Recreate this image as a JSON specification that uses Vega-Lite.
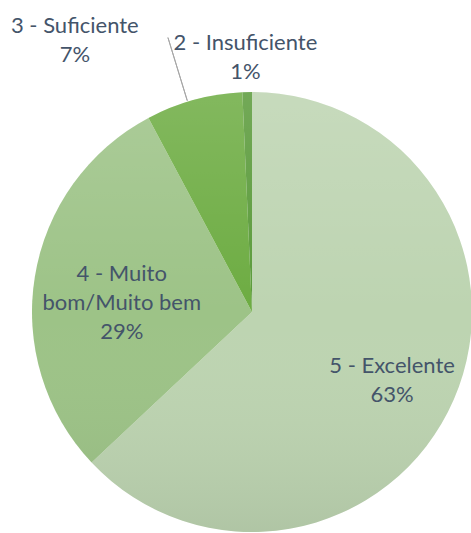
{
  "$schema": "https://vega.github.io/schema/vega-lite/v6.json",
  "width": 438,
  "height": 442,
  "autosize": "none",
  "padding": {"left": 33, "top": 91, "right": 0, "bottom": 0},
  "background": "white",
  "config": {"view": {"stroke": null}},
  "data": {
    "values": [
      {"cat": "5 - Excelente", "value": 63.0, "label": "5 - Excelente\n63%"},
      {"cat": "4 - Muito bom/Muito bem", "value": 29.2, "label": "4 - Muito\nbom/Muito bem\n29%"},
      {"cat": "3 - Suficiente", "value": 7.1, "label": "3 - Suficiente\n7%"},
      {"cat": "2 - Insuficiente", "value": 0.7, "label": "2 - Insuficiente\n1%"}
    ]
  },
  "layer": [
    {
      "mark": {"type": "arc", "outerRadius": 220},
      "encoding": {
        "theta": {"field": "value", "type": "quantitative", "stack": true},
        "order": {"field": "cat", "sort": "descending"},
        "color": {
          "field": "cat",
          "type": "nominal",
          "legend": null,
          "scale": {
            "domain": ["5 - Excelente", "4 - Muito bom/Muito bem", "3 - Suficiente", "2 - Insuficiente"],
            "range": ["#bdd4b1", "#9dc387", "#6dac42", "#5a9a3a"]
          }
        }
      }
    },
    {
      "data": {"values": [{}]},
      "mark": {
        "type": "arc",
        "outerRadius": 220,
        "theta": 0,
        "theta2": 6.2832,
        "fill": {
          "gradient": "linear",
          "x1": 0, "y1": 0, "x2": 0, "y2": 1,
          "stops": [
            {"offset": 0, "color": "rgba(255,255,255,0.15)"},
            {"offset": 0.5, "color": "rgba(255,255,255,0)"},
            {"offset": 1, "color": "rgba(0,0,0,0.07)"}
          ]
        }
      },
      "encoding": {}
    },
    {
      "data": {"values": [{}]},
      "mark": {
        "type": "arc",
        "theta": 5.986,
        "theta2": 5.986,
        "innerRadius": 221,
        "outerRadius": 287,
        "fillOpacity": 0,
        "stroke": "#a6a6a6",
        "strokeWidth": 1
      },
      "encoding": {}
    },
    {
      "mark": {"type": "text", "radius": 157, "dx": -4, "dy": -8, "font": "Lato", "fontSize": 22, "lineHeight": 29, "lineBreak": "\n", "color": "#44546a", "align": "center", "baseline": "middle"},
      "encoding": {
        "theta": {"field": "value", "type": "quantitative", "stack": true},
        "order": {"field": "cat", "sort": "descending"},
        "text": {"condition": {"test": "datum.cat === '5 - Excelente'", "field": "label"}, "value": ""}
      }
    },
    {
      "mark": {"type": "text", "radius": 130, "dx": -2, "dy": -17, "font": "Lato", "fontSize": 22, "lineHeight": 29, "lineBreak": "\n", "color": "#44546a", "align": "center", "baseline": "middle"},
      "encoding": {
        "theta": {"field": "value", "type": "quantitative", "stack": true},
        "order": {"field": "cat", "sort": "descending"},
        "text": {"condition": {"test": "datum.cat === '4 - Muito bom/Muito bem'", "field": "label"}, "value": ""}
      }
    },
    {
      "mark": {"type": "text", "radius": 300, "dx": -98, "dy": 3, "font": "Lato", "fontSize": 22, "lineHeight": 29, "lineBreak": "\n", "color": "#44546a", "align": "center", "baseline": "middle"},
      "encoding": {
        "theta": {"field": "value", "type": "quantitative", "stack": true},
        "order": {"field": "cat", "sort": "descending"},
        "text": {"condition": {"test": "datum.cat === '3 - Suficiente'", "field": "label"}, "value": ""}
      }
    },
    {
      "mark": {"type": "text", "radius": 255, "dx": -1, "dy": -14, "font": "Lato", "fontSize": 22, "lineHeight": 29, "lineBreak": "\n", "color": "#44546a", "align": "center", "baseline": "middle"},
      "encoding": {
        "theta": {"field": "value", "type": "quantitative", "stack": true},
        "order": {"field": "cat", "sort": "descending"},
        "text": {"condition": {"test": "datum.cat === '2 - Insuficiente'", "field": "label"}, "value": ""}
      }
    }
  ]
}
